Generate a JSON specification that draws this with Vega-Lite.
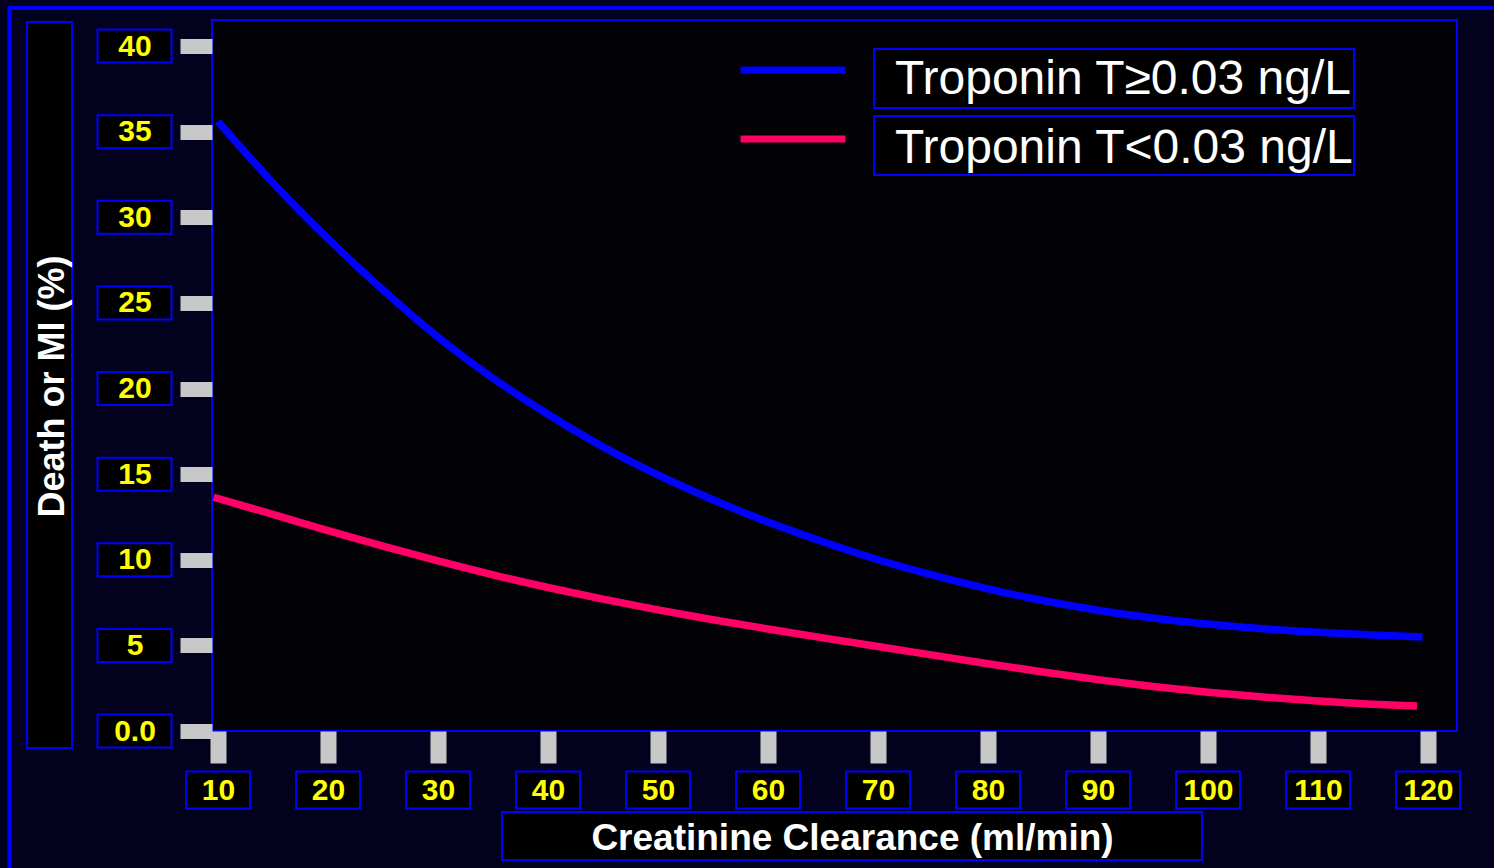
{
  "$schema": "https://vega.github.io/schema/vega-lite/v6.json",
  "width": 1245,
  "height": 711,
  "autosize": {"type": "none"},
  "padding": {"left": 212, "top": 20, "right": 37, "bottom": 137},
  "background": "#02021e",
  "config": {
    "view": {"fill": "#010106", "stroke": "#0000ff", "strokeWidth": 2},
    "font": "Liberation Sans"
  },
  "datasets": {
    "curves": [
      {"cc": 10, "pct": 35.6, "group": "Troponin T≥0.03 ng/L"},
      {"cc": 15, "pct": 32.0, "group": "Troponin T≥0.03 ng/L"},
      {"cc": 20, "pct": 28.75, "group": "Troponin T≥0.03 ng/L"},
      {"cc": 25, "pct": 25.75, "group": "Troponin T≥0.03 ng/L"},
      {"cc": 30, "pct": 23.0, "group": "Troponin T≥0.03 ng/L"},
      {"cc": 35, "pct": 20.6, "group": "Troponin T≥0.03 ng/L"},
      {"cc": 40, "pct": 18.5, "group": "Troponin T≥0.03 ng/L"},
      {"cc": 45, "pct": 16.6, "group": "Troponin T≥0.03 ng/L"},
      {"cc": 50, "pct": 14.95, "group": "Troponin T≥0.03 ng/L"},
      {"cc": 55, "pct": 13.5, "group": "Troponin T≥0.03 ng/L"},
      {"cc": 60, "pct": 12.2, "group": "Troponin T≥0.03 ng/L"},
      {"cc": 65, "pct": 11.05, "group": "Troponin T≥0.03 ng/L"},
      {"cc": 70, "pct": 10.0, "group": "Troponin T≥0.03 ng/L"},
      {"cc": 75, "pct": 9.1, "group": "Troponin T≥0.03 ng/L"},
      {"cc": 80, "pct": 8.3, "group": "Troponin T≥0.03 ng/L"},
      {"cc": 85, "pct": 7.62, "group": "Troponin T≥0.03 ng/L"},
      {"cc": 90, "pct": 7.05, "group": "Troponin T≥0.03 ng/L"},
      {"cc": 95, "pct": 6.6, "group": "Troponin T≥0.03 ng/L"},
      {"cc": 100, "pct": 6.25, "group": "Troponin T≥0.03 ng/L"},
      {"cc": 105, "pct": 5.97, "group": "Troponin T≥0.03 ng/L"},
      {"cc": 110, "pct": 5.76, "group": "Troponin T≥0.03 ng/L"},
      {"cc": 115, "pct": 5.6, "group": "Troponin T≥0.03 ng/L"},
      {"cc": 119.5, "pct": 5.49, "group": "Troponin T≥0.03 ng/L"},
      {"cc": 9.6, "pct": 13.65, "group": "Troponin T<0.03 ng/L"},
      {"cc": 15, "pct": 12.65, "group": "Troponin T<0.03 ng/L"},
      {"cc": 20, "pct": 11.7, "group": "Troponin T<0.03 ng/L"},
      {"cc": 25, "pct": 10.8, "group": "Troponin T<0.03 ng/L"},
      {"cc": 30, "pct": 9.93, "group": "Troponin T<0.03 ng/L"},
      {"cc": 35, "pct": 9.12, "group": "Troponin T<0.03 ng/L"},
      {"cc": 40, "pct": 8.38, "group": "Troponin T<0.03 ng/L"},
      {"cc": 45, "pct": 7.7, "group": "Troponin T<0.03 ng/L"},
      {"cc": 50, "pct": 7.07, "group": "Troponin T<0.03 ng/L"},
      {"cc": 55, "pct": 6.5, "group": "Troponin T<0.03 ng/L"},
      {"cc": 60, "pct": 5.96, "group": "Troponin T<0.03 ng/L"},
      {"cc": 65, "pct": 5.44, "group": "Troponin T<0.03 ng/L"},
      {"cc": 70, "pct": 4.93, "group": "Troponin T<0.03 ng/L"},
      {"cc": 75, "pct": 4.43, "group": "Troponin T<0.03 ng/L"},
      {"cc": 80, "pct": 3.93, "group": "Troponin T<0.03 ng/L"},
      {"cc": 85, "pct": 3.45, "group": "Troponin T<0.03 ng/L"},
      {"cc": 90, "pct": 3.0, "group": "Troponin T<0.03 ng/L"},
      {"cc": 95, "pct": 2.6, "group": "Troponin T<0.03 ng/L"},
      {"cc": 100, "pct": 2.26, "group": "Troponin T<0.03 ng/L"},
      {"cc": 105, "pct": 1.98, "group": "Troponin T<0.03 ng/L"},
      {"cc": 110, "pct": 1.75, "group": "Troponin T<0.03 ng/L"},
      {"cc": 115, "pct": 1.56, "group": "Troponin T<0.03 ng/L"},
      {"cc": 119, "pct": 1.46, "group": "Troponin T<0.03 ng/L"}
    ],
    "yticks": [{"v": 0}, {"v": 5}, {"v": 10}, {"v": 15}, {"v": 20}, {"v": 25}, {"v": 30}, {"v": 35}, {"v": 40}],
    "xticks": [{"v": 10}, {"v": 20}, {"v": 30}, {"v": 40}, {"v": 50}, {"v": 60}, {"v": 70}, {"v": 80}, {"v": 90}, {"v": 100}, {"v": 110}, {"v": 120}]
  },
  "layer": [
    {
      "data": {"values": [{}]},
      "mark": {"type": "rect", "fillOpacity": 0, "stroke": "#0000ff", "strokeWidth": 4},
      "encoding": {
        "x": {"datum": -8.95, "title": "Creatinine Clearance (ml/min)"},
        "x2": {"datum": 130},
        "y": {"datum": 42.22, "title": "Death or MI (%)"},
        "y2": {"datum": -10}
      }
    },
    {
      "data": {"values": [{}]},
      "mark": {"type": "rect", "fill": "#000000", "stroke": "#0000ff", "strokeWidth": 2},
      "encoding": {
        "x": {"datum": -7.36, "title": "Creatinine Clearance (ml/min)"},
        "x2": {"datum": -3.27},
        "y": {"datum": 41.4, "title": "Death or MI (%)"},
        "y2": {"datum": -0.99}
      }
    },
    {
      "data": {"values": [{}]},
      "mark": {"type": "rect", "fill": "#000000", "stroke": "#0000ff", "strokeWidth": 2},
      "encoding": {
        "x": {"datum": 35.82, "title": "Creatinine Clearance (ml/min)"},
        "x2": {"datum": 99.45},
        "y": {"datum": -4.73, "title": "Death or MI (%)"},
        "y2": {"datum": -7.53}
      }
    },
    {
      "data": {"values": [{}]},
      "mark": {"type": "rect", "fill": "#000000", "stroke": "#0000ff", "strokeWidth": 2},
      "encoding": {
        "x": {"datum": 69.64, "title": "Creatinine Clearance (ml/min)"},
        "x2": {"datum": 113.27},
        "y": {"datum": 39.82, "title": "Death or MI (%)"},
        "y2": {"datum": 36.38}
      }
    },
    {
      "data": {"values": [{}]},
      "mark": {"type": "rect", "fill": "#000000", "stroke": "#0000ff", "strokeWidth": 2},
      "encoding": {
        "x": {"datum": 69.64, "title": "Creatinine Clearance (ml/min)"},
        "x2": {"datum": 113.27},
        "y": {"datum": 35.91, "title": "Death or MI (%)"},
        "y2": {"datum": 32.47}
      }
    },
    {
      "data": {"name": "yticks"},
      "mark": {"type": "point", "shape": "M-1,-0.446H1V0.446H-1Z", "size": 5476, "filled": true, "fill": "#000000", "stroke": "#0000ff", "strokeWidth": 2, "opacity": 1},
      "encoding": {
        "x": {"datum": 2.41, "title": "Creatinine Clearance (ml/min)"},
        "y": {"field": "v", "type": "quantitative", "title": "Death or MI (%)"}
      }
    },
    {
      "data": {"name": "xticks"},
      "mark": {"type": "point", "shape": "M-1,-0.578H1V0.578H-1Z", "size": 4096, "filled": true, "fill": "#000000", "stroke": "#0000ff", "strokeWidth": 2, "opacity": 1},
      "encoding": {
        "x": {"field": "v", "type": "quantitative", "title": "Creatinine Clearance (ml/min)"},
        "y": {"datum": -3.445, "title": "Death or MI (%)"}
      }
    },
    {
      "data": {"name": "curves"},
      "mark": {"type": "line", "strokeWidth": 7.5, "interpolate": "monotone", "strokeCap": "butt"},
      "encoding": {
        "x": {
          "field": "cc",
          "type": "quantitative",
          "title": "Creatinine Clearance (ml/min)",
          "scale": {"domain": [9.4545, 122.636], "nice": false, "zero": false},
          "axis": {
            "values": [10, 20, 30, 40, 50, 60, 70, 80, 90, 100, 110, 120],
            "domain": false,
            "grid": false,
            "tickSize": 32,
            "tickWidth": 16,
            "tickColor": "#c8c8c8",
            "labelFontSize": 30,
            "labelFontWeight": "bold",
            "labelColor": "#ffff00",
            "labelFont": "Liberation Sans",
            "labelPadding": 27,
            "labelBaseline": "middle",
            "labelAlign": "center",
            "labelFlush": false,
            "labelOverlap": false,
            "titleFont": "Liberation Sans",
            "titleFontSize": 37,
            "titleFontWeight": "bold",
            "titleColor": "#ffffff",
            "titleX": 640,
            "titleY": 118,
            "titleBaseline": "alphabetic",
            "titleAlign": "center",
            "zindex": 1
          }
        },
        "y": {
          "field": "pct",
          "type": "quantitative",
          "title": "Death or MI (%)",
          "scale": {"domain": [0, 41.52], "nice": false},
          "axis": {
            "values": [0, 5, 10, 15, 20, 25, 30, 35, 40],
            "labelExpr": "datum.value === 0 ? '0.0' : datum.label",
            "domain": false,
            "grid": false,
            "tickSize": 32,
            "tickWidth": 15,
            "tickColor": "#c8c8c8",
            "labelFontSize": 30,
            "labelFontWeight": "bold",
            "labelColor": "#ffff00",
            "labelFont": "Liberation Sans",
            "labelPadding": 45.5,
            "labelBaseline": "middle",
            "labelAlign": "center",
            "labelFlush": false,
            "labelOverlap": false,
            "titleFont": "Liberation Sans",
            "titleFontSize": 36,
            "titleFontWeight": "bold",
            "titleColor": "#ffffff",
            "titleAngle": -90,
            "titleX": -149,
            "titleY": 366,
            "titleBaseline": "alphabetic",
            "titleAlign": "center",
            "zindex": 1
          }
        },
        "color": {
          "field": "group",
          "type": "nominal",
          "scale": {"domain": ["Troponin T≥0.03 ng/L", "Troponin T<0.03 ng/L"], "range": ["#0000ff", "#ff0066"]},
          "legend": {
            "orient": "none",
            "legendX": 525,
            "legendY": 40,
            "title": null,
            "symbolType": "M-1,-0.19H1",
            "symbolSize": 11025,
            "symbolStrokeWidth": 7,
            "labelFontSize": 48,
            "labelColor": "#ffffff",
            "labelFont": "Liberation Sans",
            "labelOffset": 46,
            "labelBaseline": "middle",
            "labelLimit": 800,
            "rowPadding": 21,
            "clipHeight": 40,
            "padding": 0,
            "zindex": 1
          }
        }
      }
    }
  ]
}
